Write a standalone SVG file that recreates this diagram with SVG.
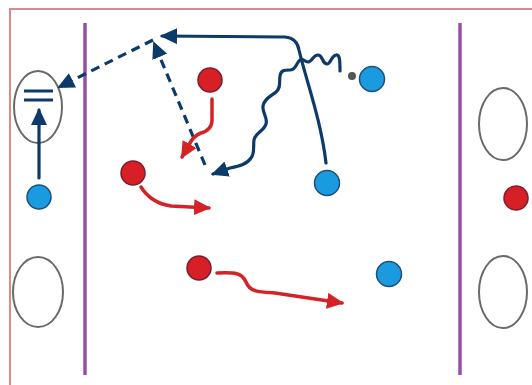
<svg xmlns="http://www.w3.org/2000/svg" width="532" height="385" viewBox="0 0 532 385">
<style>
.navy{fill:none;stroke:#0c3a6a;stroke-width:3.2;stroke-linecap:round;stroke-linejoin:round}
.dash{stroke-dasharray:9,6;stroke-linecap:butt}
.redl{fill:none;stroke:#d42226;stroke-width:3.5;stroke-linecap:round;stroke-linejoin:round}
.oval{fill:none;stroke:#6a6a6a;stroke-width:2}
.red{fill:#d71f26;stroke:#7d1c2c;stroke-width:1.5}
.blue{fill:#1a9be0;stroke:#1c4f7c;stroke-width:1.5}
.purple{stroke:#9450a6;stroke-width:3.5}
</style>
<defs>
<marker id="an" viewBox="0 0 17 16" refX="15" refY="8" markerWidth="17" markerHeight="16" markerUnits="userSpaceOnUse" orient="auto">
<path d="M0,0 L17,8 L0,16 z" fill="#0c3a6a"/>
</marker>
<marker id="ar" viewBox="0 0 17 16" refX="15" refY="8" markerWidth="17" markerHeight="16" markerUnits="userSpaceOnUse" orient="auto">
<path d="M0,0 L17,8 L0,16 z" fill="#d42226"/>
</marker>
</defs>
<rect x="0" y="0" width="532" height="385" fill="#ffffff"/>
<rect x="10" y="9" width="530" height="385" fill="none" stroke="#d98a8a" stroke-width="2"/>
<line class="purple" x1="85" y1="23" x2="85" y2="375"/>
<line class="purple" x1="460" y1="23" x2="460" y2="375"/>

<g id="left-goal-top">
<ellipse class="oval" cx="38" cy="107" rx="24" ry="36"/>
<line x1="24" y1="91" x2="53" y2="91" stroke="#0c3a6a" stroke-width="3"/>
<line x1="24" y1="100" x2="53" y2="100" stroke="#0c3a6a" stroke-width="3"/>
</g>
<g id="left-goal-bottom"><ellipse class="oval" cx="38" cy="292" rx="25" ry="35"/></g>
<g id="right-goal-top"><ellipse class="oval" cx="503" cy="124" rx="24" ry="36"/></g>
<g id="right-goal-bottom"><ellipse class="oval" cx="503" cy="292" rx="24" ry="36"/></g>

<g id="connectors">
<line class="navy" x1="39" y1="178" x2="39" y2="110" marker-end="url(#an)"/>
<path class="navy" d="M326,163 C321,120 306,80 299,50 Q297,38 285,37 L162,36" marker-end="url(#an)"/>
<line class="navy dash" x1="153" y1="40" x2="59" y2="87" marker-end="url(#an)"/>
<line class="navy dash" x1="205" y1="165" x2="154" y2="43" marker-end="url(#an)"/>
<path class="navy" d="M340,71 C340,62 340,54 336,55 C331,56 331,64 327,64 C322,64 323,55 318,55 C313,55 312,62 308,62 C304,62 304,58 300,60 C296,63 296,70 290,70 C284,70 281,70 280,76 C279,83 281,88 276,92 C271,96 264,99 263,106 C262,113 268,117 266,124 C264,131 255,133 254,140 C253,147 255,153 251,158 C247,164 240,166 230,168 L213,174" marker-end="url(#an)"/>
<path class="redl" d="M212,99 L212,120 Q212,130 201,133 Q193,136 189,145 L182,157" marker-end="url(#ar)"/>
<path class="redl" d="M141,187 Q151,203 171,206 L209,208" marker-end="url(#ar)"/>
<path class="redl" d="M217,273 C235,272 242,273 246,282 C250,292 258,292 275,293 L342,303" marker-end="url(#ar)"/>
</g>

<g id="red-1"><circle class="red" cx="210" cy="80" r="12"/></g>
<g id="red-2"><circle class="red" cx="133" cy="173" r="12"/></g>
<g id="red-3"><circle class="red" cx="199" cy="268" r="12"/></g>
<g id="red-4"><circle class="red" cx="516" cy="198" r="12"/></g>
<g id="blue-1"><circle class="blue" cx="39" cy="197" r="12"/></g>
<g id="blue-2"><circle class="blue" cx="372" cy="79" r="12.5"/></g>
<g id="blue-3"><circle class="blue" cx="327" cy="183" r="12.5"/></g>
<g id="blue-4"><circle class="blue" cx="389" cy="274" r="12.5"/></g>
<g id="ball"><circle cx="352" cy="76" r="4" fill="#555555"/></g>
</svg>
